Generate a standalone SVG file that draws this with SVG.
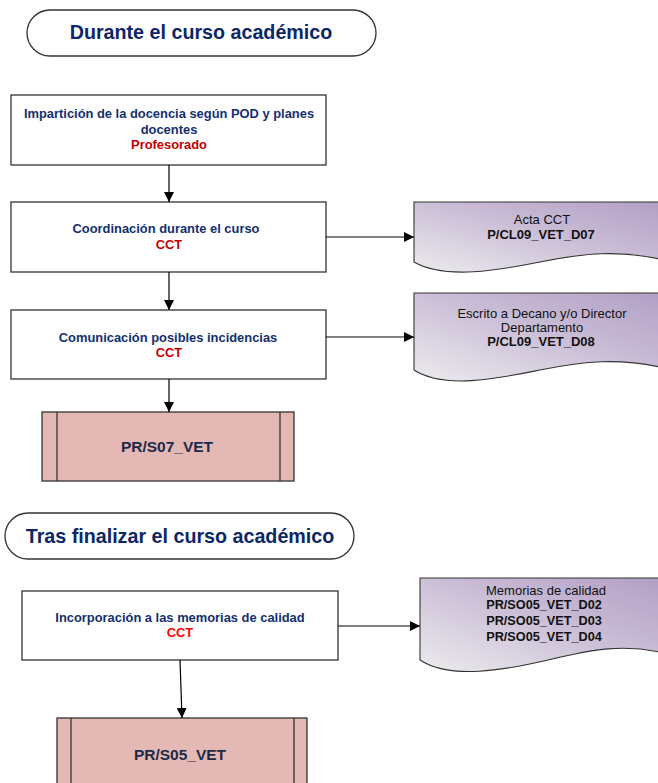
<svg xmlns="http://www.w3.org/2000/svg" width="658" height="783" viewBox="0 0 658 783">
<defs>
<linearGradient id="docg" x1="0" y1="1" x2="1" y2="0">
<stop offset="0" stop-color="#ecebed"/>
<stop offset="0.55" stop-color="#c9bcd6"/>
<stop offset="1" stop-color="#b09ec4"/>
</linearGradient>
<marker id="arr" viewBox="0 0 10 10" refX="10" refY="5" markerWidth="10" markerHeight="10" markerUnits="userSpaceOnUse" orient="auto">
<path d="M0,0 L10,5 L0,10 z" fill="#000"/>
</marker>
</defs>
<style>
text{font-family:"Liberation Sans",Arial,sans-serif;text-anchor:middle}
.term{fill:#fff;stroke:#333;stroke-width:1.3}
.termt{font-size:19.7px;font-weight:bold;fill:#0c2766}
.box{fill:#fff;stroke:#333;stroke-width:1.3}
.bt{font-size:12.9px;font-weight:bold;fill:#13306e}
.red{font-size:12.9px;font-weight:bold;fill:#c00000}
.red2{font-size:12.9px;font-weight:bold;fill:#ff0000}
.doc{fill:url(#docg);stroke:#333;stroke-width:1.1}
.dt{font-size:13px;fill:#111}
.db{font-size:13px;font-weight:bold;fill:#111}
.db2{font-size:12.7px;font-weight:bold;fill:#111}
.sub{fill:#e4b8b5;stroke:#333;stroke-width:1.3}
.st{font-size:15.5px;font-weight:bold;fill:#1c2a48}
.con{stroke:#000;stroke-width:1.2;fill:none;marker-end:url(#arr)}
</style>

<g id="t1">
<rect class="term" x="27" y="10" width="349" height="46" rx="23" ry="23"/>
<text class="termt" x="201" y="39">Durante el curso académico</text>
</g>

<g id="n1">
<rect class="box" x="11" y="95" width="315" height="70"/>
<text class="bt" x="169" y="118">Impartición de la docencia según POD y planes</text>
<text class="bt" x="169" y="134">docentes</text>
<text class="red" x="169" y="149">Profesorado</text>
</g>

<g id="n2">
<rect class="box" x="11" y="202" width="315" height="70"/>
<text class="bt" x="166" y="233">Coordinación durante el curso</text>
<text class="red" x="169" y="249">CCT</text>
</g>

<g id="d1">
<path class="doc" d="M414,202 H672 V262 C620,248 580,254 540,262 C500,270 445,280 414,262 Z"/>
<text class="dt" x="542" y="224">Acta CCT</text>
<text class="db" x="541" y="239">P/CL09_VET_D07</text>
</g>

<g id="n3">
<rect class="box" x="11" y="310" width="315" height="69"/>
<text class="bt" x="168" y="342">Comunicación posibles incidencias</text>
<text class="red" x="169" y="357">CCT</text>
</g>

<g id="d2">
<path class="doc" d="M414,293 H672 V370 C620,356 580,362 540,370 C500,378 445,390 414,370 Z"/>
<text class="dt" x="542" y="318">Escrito a Decano y/o Director</text>
<text class="dt" x="542" y="332">Departamento</text>
<text class="db" x="541" y="346">P/CL09_VET_D08</text>
</g>

<g id="s1">
<rect class="sub" x="42" y="412" width="252" height="69"/>
<line x1="57" y1="412" x2="57" y2="481" stroke="#333" stroke-width="1.3"/>
<line x1="280" y1="412" x2="280" y2="481" stroke="#333" stroke-width="1.3"/>
<text class="st" x="167" y="452">PR/S07_VET</text>
</g>

<g id="t2">
<rect class="term" x="5" y="513" width="349" height="46" rx="23" ry="23"/>
<text class="termt" x="180" y="543">Tras finalizar el curso académico</text>
</g>

<g id="n4">
<rect class="box" x="22" y="591" width="316" height="69"/>
<text class="bt" x="180" y="622">Incorporación a las memorias de calidad</text>
<text class="red2" x="180" y="637">CCT</text>
</g>

<g id="d3">
<path class="doc" d="M420,578 H672 V655 C625,642 590,650 548,660 C505,670 450,680 420,660 Z"/>
<text class="dt" x="546" y="595">Memorias de calidad</text>
<text class="db2" x="544" y="609">PR/SO05_VET_D02</text>
<text class="db2" x="544" y="625">PR/SO05_VET_D03</text>
<text class="db2" x="544" y="641">PR/SO05_VET_D04</text>
</g>

<g id="s2">
<rect class="sub" x="57" y="718" width="250" height="80"/>
<line x1="71" y1="718" x2="71" y2="798" stroke="#333" stroke-width="1.3"/>
<line x1="294" y1="718" x2="294" y2="798" stroke="#333" stroke-width="1.3"/>
<text class="st" x="180" y="760">PR/S05_VET</text>
</g>

<g id="connectors">
<line class="con" x1="169" y1="165" x2="169" y2="202"/>
<line class="con" x1="326" y1="237" x2="414" y2="237"/>
<line class="con" x1="169" y1="272" x2="169" y2="310"/>
<line class="con" x1="326" y1="337" x2="414" y2="337"/>
<line class="con" x1="169" y1="379" x2="169" y2="412"/>
<line class="con" x1="338" y1="626" x2="420" y2="626"/>
<line class="con" x1="180" y1="660" x2="182" y2="718"/>
</g>
</svg>
